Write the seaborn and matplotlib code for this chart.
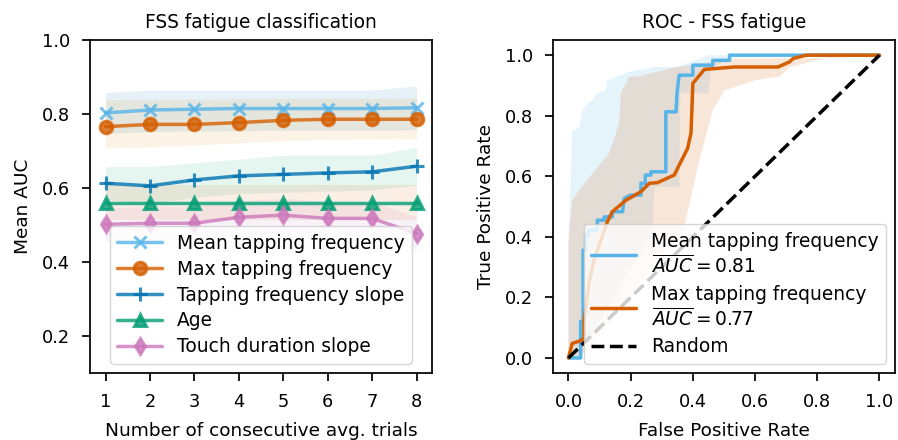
import numpy as np
import pandas as pd
import matplotlib
matplotlib.use("Agg")
import matplotlib.pyplot as plt
import seaborn as sns

# left panel: mean AUC vs number of consecutive averaged trials
trials = [1, 2, 3, 4, 5, 6, 7, 8]
mean_tap = [0.803, 0.811, 0.813, 0.815, 0.815, 0.815, 0.815, 0.817]
mean_tap_lo = [0.748, 0.752, 0.754, 0.755, 0.756, 0.756, 0.756, 0.757]
mean_tap_hi = [0.858, 0.865, 0.865, 0.865, 0.865, 0.865, 0.865, 0.876]
max_tap = [0.766, 0.772, 0.772, 0.777, 0.783, 0.786, 0.786, 0.786]
max_tap_lo = [0.708, 0.712, 0.716, 0.722, 0.728, 0.732, 0.733, 0.734]
max_tap_hi = [0.838, 0.840, 0.840, 0.841, 0.842, 0.842, 0.842, 0.843]
slope = [0.613, 0.606, 0.622, 0.633, 0.637, 0.641, 0.644, 0.659]
slope_lo = [0.568, 0.560, 0.575, 0.585, 0.588, 0.592, 0.595, 0.608]
slope_hi = [0.658, 0.658, 0.668, 0.678, 0.689, 0.689, 0.689, 0.710]
age = [0.56, 0.56, 0.56, 0.56, 0.56, 0.56, 0.56, 0.56]
age_lo = [0.513, 0.513, 0.513, 0.513, 0.513, 0.513, 0.513, 0.513]
age_hi = [0.607, 0.607, 0.607, 0.607, 0.607, 0.607, 0.607, 0.607]
touch = [0.502, 0.505, 0.505, 0.521, 0.527, 0.518, 0.518, 0.477]
touch_lo = [0.457, 0.460, 0.460, 0.476, 0.482, 0.473, 0.473, 0.432]
touch_hi = [0.547, 0.550, 0.550, 0.566, 0.572, 0.563, 0.563, 0.522]
labels_left = ["Mean tapping frequency", "Max tapping frequency",
               "Tapping frequency slope", "Age", "Touch duration slope"]

# right panel: mean ROC curves
blue_fpr = [0, 0.039, 0.039, 0.047, 0.047, 0.055, 0.055, 0.066, 0.066, 0.093,
            0.093, 0.115, 0.115, 0.141, 0.141, 0.174, 0.179, 0.2, 0.233, 0.233,
            0.247, 0.247, 0.265, 0.265, 0.313, 0.313, 0.346, 0.349, 0.356, 0.40,
            0.40, 0.464, 0.464, 0.518, 0.518, 1.0]
blue_tpr = [0, 0, 0.12, 0.12, 0.356, 0.356, 0.406, 0.406, 0.422, 0.422,
            0.455, 0.455, 0.466, 0.466, 0.483, 0.483, 0.527, 0.538, 0.538, 0.577,
            0.577, 0.604, 0.604, 0.615, 0.615, 0.813, 0.813, 0.874, 0.934, 0.934,
            0.967, 0.967, 0.983, 0.983, 1.0, 1.0]
orange_fpr = [0, 0.012, 0.039, 0.05, 0.05, 0.066, 0.082, 0.125, 0.141, 0.185,
              0.233, 0.26, 0.286, 0.34, 0.356, 0.383, 0.394, 0.4, 0.437, 0.534,
              0.674, 0.711, 0.722, 0.765, 1.0]
orange_tpr = [0, 0.048, 0.057, 0.065, 0.12, 0.246, 0.323, 0.45, 0.483, 0.521,
              0.549, 0.577, 0.579, 0.604, 0.637, 0.692, 0.742, 0.907, 0.953, 0.961,
              0.961, 0.978, 0.989, 1.0, 1.0]
# +/- std bands
blue_up_fpr = [0, 0.012, 0.035, 0.045, 0.055, 0.082, 0.088, 0.12, 0.125, 0.195,
               0.276, 0.35, 0.45, 1.0]
blue_up_tpr = [0.385, 0.75, 0.76, 0.818, 0.832, 0.857, 0.874, 0.884, 0.917, 0.945,
               0.961, 0.961, 1.0, 1.0]
blue_lo_fpr = [0, 0.045, 0.05, 0.27, 0.276, 0.357, 0.36, 0.45, 0.46, 0.55, 1.0]
blue_lo_tpr = [0, 0, 0.037, 0.41, 0.565, 0.565, 0.874, 0.874, 0.96, 1.0, 1.0]
orange_up_fpr = [0, 0.012, 0.034, 0.077, 0.13, 0.163, 0.168, 0.195, 0.227, 0.346,
                 0.54, 0.83, 0.84, 1.0]
orange_up_tpr = [0.385, 0.52, 0.554, 0.609, 0.675, 0.774, 0.874, 0.928, 0.93, 0.961,
                 0.989, 0.99, 1.0, 1.0]
orange_lo_fpr = [0, 0.03, 0.066, 0.2, 0.372, 0.421, 0.464, 0.502, 0.6, 0.68,
                 0.71, 0.78, 0.83, 1.0]
orange_lo_tpr = [0, 0, 0.037, 0.21, 0.433, 0.653, 0.818, 0.884, 0.917, 0.93,
                 0.96, 0.978, 0.99, 1.0]
auc_mean = 0.81
auc_max = 0.77


def plot_auc_panel(ax):
    """Mean AUC per feature with shaded band, one line per feature"""
    cb = sns.color_palette("colorblind")
    line_cols = [cb[9], cb[3], cb[0], cb[2], cb[4]]
    band_cols = [cb[0], cb[1], cb[2], cb[3], cb[4]]
    markers = ["x", "o", "+", "^", "d"]
    sizes = [9, 9, 10, 9, 8.5]
    vals = [mean_tap, max_tap, slope, age, touch]
    los = [mean_tap_lo, max_tap_lo, slope_lo, age_lo, touch_lo]
    his = [mean_tap_hi, max_tap_hi, slope_hi, age_hi, touch_hi]

    for i in range(len(vals)):
        ax.fill_between(trials, los[i], his[i], color=band_cols[i],
                        alpha=0.1, lw=0)
    for i in range(len(vals)):
        df = pd.DataFrame({"trials": trials, "auc": vals[i]})
        sns.lineplot(data=df, x="trials", y="auc", ax=ax, color=line_cols[i],
                     marker=markers[i], markersize=sizes[i], lw=2.5, alpha=0.8,
                     markeredgecolor=line_cols[i], markeredgewidth=2.2,
                     label=labels_left[i])

    ax.set_ylim(0.1, 1.0)
    ax.set_yticks([0.2, 0.4, 0.6, 0.8, 1.0])
    ax.set_xticks(trials)
    ax.set_xlabel("Number of consecutive avg. trials", labelpad=8)
    ax.set_ylabel("Mean AUC", labelpad=7)
    ax.set_title("FSS fatigue classification")
    ax.legend(loc="lower center", handlelength=2.4, labelspacing=0.37)


def plot_roc_panel(ax):
    """Mean ROC curves with std bands and the chance diagonal"""
    cb = sns.color_palette("colorblind")
    blue = cb[9]
    orange = cb[3]
    ax.fill(np.concatenate([blue_up_fpr, blue_lo_fpr[::-1]]),
            np.concatenate([blue_up_tpr, blue_lo_tpr[::-1]]),
            color=blue, alpha=0.15, lw=0)
    ax.fill(np.concatenate([orange_up_fpr, orange_lo_fpr[::-1]]),
            np.concatenate([orange_up_tpr, orange_lo_tpr[::-1]]),
            color=orange, alpha=0.15, lw=0)

    sns.lineplot(x=blue_fpr, y=blue_tpr, ax=ax, color=blue, lw=2.5,
                 estimator=None, sort=False,
                 label="Mean tapping frequency\n$\\overline{AUC} = %.2f$" % auc_mean)
    sns.lineplot(x=orange_fpr, y=orange_tpr, ax=ax, color=orange, lw=2.5,
                 estimator=None, sort=False,
                 label="Max tapping frequency\n$\\overline{AUC} = %.2f$" % auc_max)
    sns.lineplot(x=[0, 1], y=[0, 1], ax=ax, color="black", lw=2.5,
                 linestyle="--", estimator=None, label="Random")

    ax.set_xlim(-0.05, 1.05)
    ax.set_ylim(-0.05, 1.05)
    ticks = [0.0, 0.2, 0.4, 0.6, 0.8, 1.0]
    ax.set_xticks(ticks)
    ax.set_yticks(ticks)
    ax.set_xlabel("False Positive Rate", labelpad=8)
    ax.set_ylabel("True Positive Rate", labelpad=7)
    ax.set_title("ROC - FSS fatigue")
    ax.legend(loc="lower right", handlelength=2.4, labelspacing=0.4)


def main():
    sns.set_theme(style="ticks", context="notebook", font_scale=1.1)
    plt.rcParams.update({"axes.edgecolor": "black", "xtick.color": "black",
                         "ytick.color": "black", "axes.labelcolor": "black",
                         "text.color": "black",
                         "xtick.labelsize": 12.8, "ytick.labelsize": 12.8,
                         "axes.labelsize": 13.3, "axes.titlesize": 13.4,
                         "legend.fontsize": 13.4,
                         "xtick.major.pad": 8.5, "ytick.major.pad": 8.5,
                         "axes.titlepad": 8.5})
    fig, (ax1, ax2) = plt.subplots(1, 2, figsize=(8.98, 4.4), dpi=100)
    fig.subplots_adjust(left=0.1002, right=0.9967, bottom=0.152, top=0.909,
                        wspace=0.353)
    plot_auc_panel(ax1)
    plot_roc_panel(ax2)
    fig.savefig("out.png", dpi=100)


if __name__ == "__main__":
    main()
